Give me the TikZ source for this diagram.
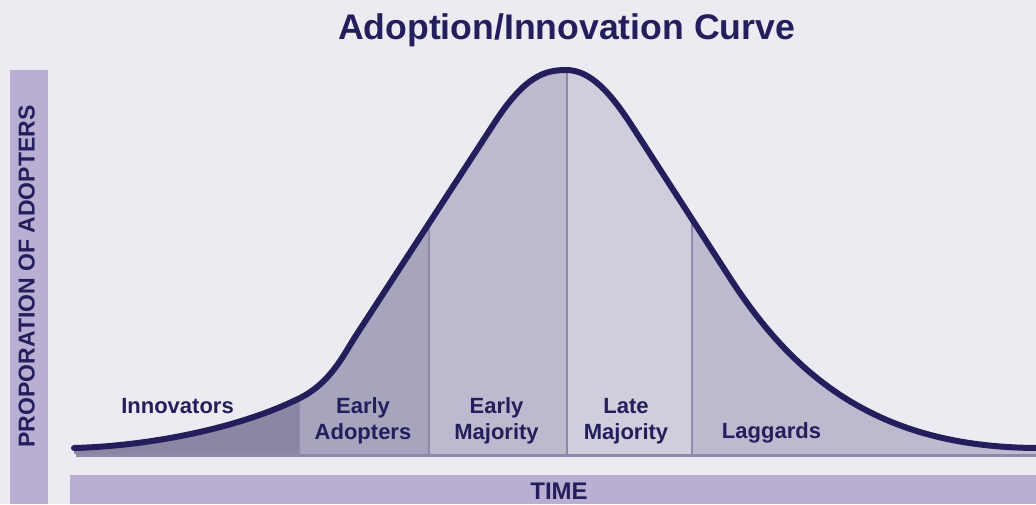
\documentclass[tikz,border=0pt]{standalone}
\usepackage{fontspec}
\setmainfont{Liberation Sans}
\definecolor{bgcol}{HTML}{ECEBF1}
\definecolor{barcol}{HTML}{B8AFD3}
\definecolor{navy}{HTML}{241F5C}
\definecolor{innovcol}{HTML}{8A86A3}
\definecolor{adoptcol}{HTML}{A7A4BD}
\definecolor{earlycol}{HTML}{BDB9CE}
\definecolor{latecol}{HTML}{D0CDDD}
\definecolor{laggcol}{HTML}{BDB9CE}
\definecolor{linecol}{HTML}{8E89A8}
\newcommand\adoptcurve{(74,448) .. controls (150,446) and (240,428) .. (300,398)
  .. controls (330,383) and (343,356) .. (355,337) -- (495,122)
  .. controls (525,76) and (545,70) .. (566,70)
  .. controls (590,70) and (610,92) .. (632,126) -- (730,278)
  .. controls (765,332) and (810,385) .. (880,417)
  .. controls (930,440) and (985,448) .. (1040,448)}
\tikzset{
  bellcurve/.style={draw=navy, line width=6pt, line cap=round, line join=round},
  groundline/.style={draw=linecol, line width=3pt},
  divline/.style={draw=linecol, line width=2pt},
  seglabel/.style={font=\fontsize{22}{26.7}\selectfont\bfseries, text=navy, align=center, inner sep=0pt},
  axislabel/.style={font=\fontsize{23}{26}\selectfont\bfseries, text=navy, inner sep=0pt},
}
\begin{document}
\begin{tikzpicture}[x=1pt,y=-1pt]
  \useasboundingbox (0,0) rectangle (1036,504);
  \fill[bgcol] (0,0) rectangle (1036,504);
  % axis bars
  \fill[barcol] (10,70) rectangle (48,504);
  \fill[barcol] (70,475) rectangle (1036,504);
  \node[axislabel, rotate=90] (yaxis) at (26.7,276.5) {PROPORATION OF ADOPTERS};
  \node[axislabel, font=\fontsize{24}{26}\selectfont\bfseries] (xaxis) at (559,491.5) {TIME};
  \node[axislabel, font=\fontsize{35.6}{40}\selectfont\bfseries, anchor=base] (title) at (566.5,39) {Adoption/Innovation Curve};
  % areas under the curve
  \begin{scope}
    \clip \adoptcurve -- (1040,454) -- (74,454) -- cycle;
    \foreach \xa/\xb/\col in {60/299/innovcol, 299/429/adoptcol, 429/566.5/earlycol, 566.5/691.5/latecol, 691.5/1040/laggcol}
      \fill[\col] (\xa,40) rectangle (\xb,454);
    \foreach \xd in {299,429,566.5,691.5}
      \draw[divline] (\xd,454) -- (\xd,40);
  \end{scope}
  \draw[groundline] (76,455.5) -- (1036,455.5);
  \draw[bellcurve] \adoptcurve;
  % segment labels
  \node[seglabel, anchor=base] (innov) at (177.5,413.3) {Innovators};
  \node[seglabel] (adopt) at (363,421.3) {Early\strut\\Adopters\strut};
  \node[seglabel] (early) at (496.5,421.3) {Early\strut\\Majority\strut};
  \node[seglabel] (late) at (626,421.3) {Late\strut\\Majority\strut};
  \node[seglabel, anchor=base] (lagg) at (771.5,438) {Laggards};
\end{tikzpicture}
\end{document}
